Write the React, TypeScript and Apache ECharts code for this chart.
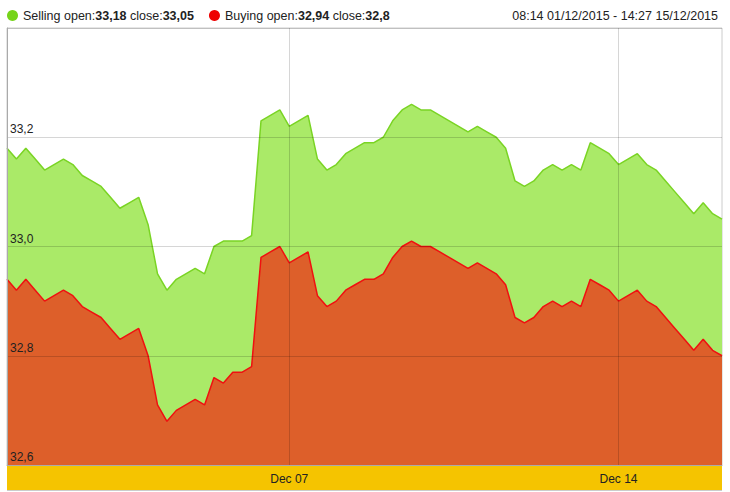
import React, { useEffect, useRef } from "react";
import * as echarts from "echarts";

const startLabel = "08:14 01/12/2015";
const endLabel = "14:27 15/12/2015";
const tickLabels = ["Dec 07", "Dec 14"];
const tickPositions = [30, 65];
const yTicks = [32.6, 32.8, 33.0, 33.2, 33.4];

const selling = [
  33.18, 33.16, 33.18, 33.16, 33.14, 33.15, 33.16, 33.15, 33.13, 33.12,
  33.11, 33.09, 33.07, 33.08, 33.09, 33.04, 32.95, 32.92, 32.94, 32.95,
  32.96, 32.95, 33.0, 33.01, 33.01, 33.01, 33.02, 33.23, 33.24, 33.25,
  33.22, 33.23, 33.24, 33.16, 33.14, 33.15, 33.17, 33.18, 33.19, 33.19,
  33.2, 33.23, 33.25, 33.26, 33.25, 33.25, 33.24, 33.23, 33.22, 33.21,
  33.22, 33.21, 33.2, 33.18, 33.12, 33.11, 33.12, 33.14, 33.15, 33.14,
  33.15, 33.14, 33.19, 33.18, 33.17, 33.15, 33.16, 33.17, 33.15, 33.14,
  33.12, 33.1, 33.08, 33.06, 33.08, 33.06, 33.05,
];

const buying = [
  32.94, 32.92, 32.94, 32.92, 32.9, 32.91, 32.92, 32.91, 32.89, 32.88,
  32.87, 32.85, 32.83, 32.84, 32.85, 32.8, 32.71, 32.68, 32.7, 32.71,
  32.72, 32.71, 32.76, 32.75, 32.77, 32.77, 32.78, 32.98, 32.99, 33.0,
  32.97, 32.98, 32.99, 32.91, 32.89, 32.9, 32.92, 32.93, 32.94, 32.94,
  32.95, 32.98, 33.0, 33.01, 33.0, 33.0, 32.99, 32.98, 32.97, 32.96,
  32.97, 32.96, 32.95, 32.93, 32.87, 32.86, 32.87, 32.89, 32.9, 32.89,
  32.9, 32.89, 32.94, 32.93, 32.92, 32.9, 32.91, 32.92, 32.9, 32.89,
  32.87, 32.85, 32.83, 32.81, 32.83, 32.81, 32.8,
];

const fmt = (v: number) => String(v).replace(".", ",");
const FONT = "Arial, 'Liberation Sans', sans-serif";

export default function App() {
  const ref = useRef<HTMLDivElement>(null);
  useEffect(() => {
    if (!ref.current) return;
    const chart = echarts.init(ref.current, null, { renderer: "svg" });
    const categories = selling.map((_, i) => String(i));
    const legendText: Record<string, string> = {
      Selling: `{n|Selling open:}{b|${fmt(selling[0])}}{n| close:}{b|${fmt(selling[selling.length - 1])}}`,
      Buying: `{n|Buying open:}{b|${fmt(buying[0])}}{n| close:}{b|${fmt(buying[buying.length - 1])}}`,
    };
    const isTick = (i: number) => tickPositions.indexOf(i) >= 0;
    chart.setOption({
      animation: false,
      textStyle: { fontFamily: FONT },
      title: {
        text: `${startLabel} - ${endLabel}`,
        right: 12,
        top: 9,
        padding: 0,
        textStyle: { fontSize: 12.5, fontWeight: "normal", color: "#222", fontFamily: FONT },
      },
      legend: {
        left: 7,
        top: 9,
        padding: 0,
        icon: "circle",
        itemWidth: 11,
        itemHeight: 11,
        itemGap: 15,
        data: ["Selling", "Buying"],
        formatter: (name: string) => legendText[name],
        textStyle: {
          rich: {
            n: { fontSize: 12.5, color: "#222", fontFamily: FONT },
            b: { fontSize: 12.5, color: "#222", fontWeight: "bold", fontFamily: FONT },
          },
        },
      },
      grid: {
        left: 7,
        right: 8,
        top: 28,
        bottom: 27,
        show: true,
        borderColor: "#ccc",
        borderWidth: 1,
        backgroundColor: "#fff",
      },
      graphic: [
        {
          type: "rect",
          z: -1,
          shape: { x: 7, y: 466, width: 715, height: 24 },
          style: { fill: "#f5c400" },
        },
        {
          type: "line",
          z: -1,
          shape: { x1: 7, y1: 490.5, x2: 722, y2: 490.5 },
          style: { stroke: "#ccc", lineWidth: 1 },
        },
      ],
      xAxis: {
        type: "category",
        data: categories,
        boundaryGap: false,
        z: 5,
        axisLine: { show: true, lineStyle: { color: "#aaa" } },
        axisTick: { show: false },
        axisLabel: {
          interval: (i: number) => isTick(i),
          formatter: (_v: string, i: number) => tickLabels[tickPositions.indexOf(i)] ?? "",
          color: "#222",
          fontSize: 12,
          margin: 8,
          fontFamily: FONT,
        },
        splitLine: {
          show: true,
          interval: (i: number) => isTick(i),
          lineStyle: { color: "rgba(0,0,0,0.16)", width: 1 },
        },
      },
      yAxis: {
        type: "value",
        min: yTicks[0],
        max: yTicks[yTicks.length - 1],
        interval: 0.2,
        z: 5,
        axisLine: { show: true, lineStyle: { color: "#aaa" } },
        axisTick: { show: false },
        axisLabel: {
          inside: true,
          margin: 3,
          showMaxLabel: false,
          verticalAlign: "bottom",
          padding: [0, 0, 2, 0],
          color: "#222",
          fontSize: 12,
          fontFamily: FONT,
          formatter: (v: number) => v.toFixed(1).replace(".", ","),
        },
        splitLine: { show: true, lineStyle: { color: "rgba(0,0,0,0.16)", width: 1 } },
      },
      series: [
        {
          name: "Selling",
          type: "line",
          data: selling,
          symbol: "none",
          itemStyle: { color: "#76d41a" },
          lineStyle: { color: "#7ad424", width: 1.5 },
          areaStyle: { color: "#aaea68", opacity: 1, origin: "start" },
        },
        {
          name: "Buying",
          type: "line",
          data: buying,
          symbol: "none",
          itemStyle: { color: "#ee0000" },
          lineStyle: { color: "#f01010", width: 1.5 },
          areaStyle: { color: "#dd5f2a", opacity: 1, origin: "start" },
        },
      ],
    });
    return () => chart.dispose();
  }, []);
  return (
    <div
      ref={ref}
      style={{ position: "absolute", left: 0, top: 0, width: 730, height: 492 }}
    />
  );
}
